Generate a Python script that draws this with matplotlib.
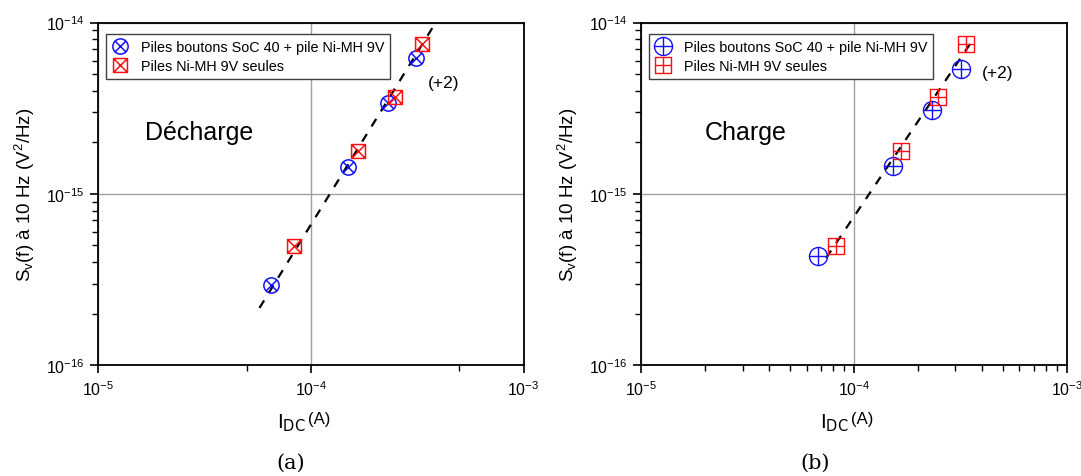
import matplotlib
matplotlib.use("Agg")
import matplotlib.pyplot as plt
import numpy as np
from matplotlib.path import Path
from matplotlib.ticker import FixedLocator, NullFormatter, LogFormatterSciNotation

plt.rcParams['font.family'] = ['Liberation Sans', 'DejaVu Sans']
plt.rcParams['mathtext.fontset'] = 'custom'
plt.rcParams['mathtext.rm'] = 'Liberation Sans'
plt.rcParams['mathtext.it'] = 'Liberation Sans:italic'
plt.rcParams['mathtext.default'] = 'regular'
plt.rcParams['axes.unicode_minus'] = False

# ---- data (a) Décharge ----
a_blue_x = [6.5e-5, 1.49e-4, 2.31e-4, 3.13e-4]
a_blue_y = [2.96e-16, 1.44e-15, 3.37e-15, 6.2e-15]
a_red_x = [8.3e-5, 1.67e-4, 2.49e-4, 3.34e-4]
a_red_y = [4.94e-16, 1.79e-15, 3.68e-15, 7.52e-15]
a_fit_x = [5.74e-5, 3.79e-4]
a_fit_y = [2.16e-16, 9.6e-15]

# ---- data (b) Charge ----
b_blue_x = [6.81e-5, 1.52e-4, 2.34e-4, 3.18e-4]
b_blue_y = [4.32e-16, 1.46e-15, 3.08e-15, 5.38e-15]
b_red_x = [8.25e-5, 1.67e-4, 2.49e-4, 3.36e-4]
b_red_y = [4.94e-16, 1.79e-15, 3.68e-15, 7.52e-15]
b_fit_x = [7.41e-5, 3.59e-4]
b_fit_y = [4.23e-16, 7.79e-15]

x_major = [1e-5, 1e-4, 1e-3]
y_major = [1e-16, 1e-15, 1e-14]

label_blue = "Piles boutons SoC 40 + pile Ni-MH 9V"
label_red = "Piles Ni-MH 9V seules"
ylabel = r"S$_v$(f) à 10 Hz (V$^2$/Hz)"

# ---- custom markers ----
def compound(shape, cross):
    if shape == 'circle':
        base = Path.unit_circle()
        d = np.cos(np.pi / 4)
    else:
        base = Path([(-1, -1), (1, -1), (1, 1), (-1, 1), (-1, -1)],
                    [Path.MOVETO, Path.LINETO, Path.LINETO, Path.LINETO, Path.CLOSEPOLY])
        d = 1.0
    if cross == 'x':
        lines = Path([(-d, -d), (d, d), (-d, d), (d, -d)],
                     [Path.MOVETO, Path.LINETO, Path.MOVETO, Path.LINETO])
    else:
        lines = Path([(-1, 0), (1, 0), (0, -1), (0, 1)],
                     [Path.MOVETO, Path.LINETO, Path.MOVETO, Path.LINETO])
    return Path.make_compound_path(base, lines)

m_circ_x = compound('circle', 'x')
m_sq_x = compound('square', 'x')
m_circ_p = compound('circle', '+')
m_sq_p = compound('square', '+')

fig = plt.figure(figsize=(10.81, 4.77), dpi=100)
W, H = 1081, 477
ax_a = fig.add_axes([98 / W, 1 - 366.3 / H, (523.5 - 98) / W, (366.3 - 23.5) / H])
ax_b = fig.add_axes([641 / W, 1 - 366.3 / H, (1066.7 - 641) / W, (366.3 - 23.5) / H])

def minor_list(decades, subs):
    return [s * d for d in decades[:-1] for s in subs]

def setup(ax, full_minor_x):
    ax.set_xscale('log')
    ax.set_yscale('log')
    ax.set_xlim(1e-5, 1e-3)
    ax.set_ylim(1e-16, 1e-14)
    ax.xaxis.set_major_locator(FixedLocator(x_major))
    ax.yaxis.set_major_locator(FixedLocator(y_major))
    ax.xaxis.set_major_formatter(LogFormatterSciNotation())
    ax.yaxis.set_major_formatter(LogFormatterSciNotation())
    if full_minor_x:
        ax.xaxis.set_minor_locator(FixedLocator(minor_list(x_major, range(2, 10))))
    else:
        ax.xaxis.set_minor_locator(FixedLocator(minor_list(x_major, [5])))
    ax.yaxis.set_minor_locator(FixedLocator(minor_list(y_major, range(2, 10))))
    ax.xaxis.set_minor_formatter(NullFormatter())
    ax.yaxis.set_minor_formatter(NullFormatter())
    ax.grid(True, which='major', color='#a0a0a0', linewidth=1.0)
    ax.set_axisbelow(True)
    for s in ax.spines.values():
        s.set_linewidth(1.3)
    ax.tick_params(which='major', direction='out', length=6, width=1.2, labelsize=11.5,
                   top=False, right=False, pad=4)
    ax.tick_params(which='minor', direction='out', length=4, width=1.0, top=False, right=False)
    ax.set_ylabel(ylabel, fontsize=13.5, labelpad=6)

setup(ax_a, False)
setup(ax_b, True)

ms = 11
# (a)
ax_a.plot(a_fit_x, a_fit_y, '--', color='black', linewidth=1.6, dashes=(4, 4), zorder=2)
ax_a.plot(a_blue_x, a_blue_y, linestyle='none', marker=m_circ_x, markersize=ms,
          markerfacecolor='none', markeredgecolor='#1010ff', markeredgewidth=1.1,
          label=label_blue, zorder=3)
ax_a.plot(a_red_x, a_red_y, linestyle='none', marker=m_sq_x, markersize=ms - 1,
          markerfacecolor='none', markeredgecolor='#ff1010', markeredgewidth=1.1,
          label=label_red, zorder=3)
# (b)
ax_b.plot(b_fit_x, b_fit_y, '--', color='black', linewidth=1.6, dashes=(4, 4), zorder=2)
ax_b.plot(b_blue_x, b_blue_y, linestyle='none', marker=m_circ_p, markersize=ms + 2,
          markerfacecolor='none', markeredgecolor='#1010ff', markeredgewidth=1.0,
          label=label_blue, zorder=3)
ax_b.plot(b_red_x, b_red_y, linestyle='none', marker=m_sq_p, markersize=ms + 0.5,
          markerfacecolor='none', markeredgecolor='#ff1010', markeredgewidth=1.0,
          label=label_red, zorder=3)

for ax in (ax_a, ax_b):
    leg = ax.legend(loc='upper left', bbox_to_anchor=(0.012, 0.975), fontsize=10.4,
                    frameon=True, fancybox=False, edgecolor='#404040', framealpha=1,
                    handlelength=1.2, handletextpad=0.8, borderpad=0.4,
                    labelspacing=0.35, borderaxespad=0.2)
    leg.get_frame().set_linewidth(1.0)

ax_a.text(0.11, 0.68, "Décharge", transform=ax_a.transAxes, fontsize=18, va='center', ha='left')
ax_b.text(0.149, 0.68, "Charge", transform=ax_b.transAxes, fontsize=18, va='center', ha='left')
ax_a.text(0.775, 0.825, "(+2)", transform=ax_a.transAxes, fontsize=12.5, va='center', ha='left')
ax_b.text(0.8, 0.855, "(+2)", transform=ax_b.transAxes, fontsize=12.5, va='center', ha='left')

# x labels: "I_DC (A)"
for cx in (310 / W, 853 / W):
    fig.text(cx - 0.004, 1 - 423 / H, r"I$_{\mathsf{DC}}$", fontsize=15, ha='right', va='center')
    fig.text(cx - 0.002, 1 - 420 / H, "(A)", fontsize=12, ha='left', va='center')

fig.text(291 / W, 1 - 463 / H, "(a)", fontsize=15, ha='center', va='center',
         family=['DejaVu Serif'])
fig.text(815 / W, 1 - 463 / H, "(b)", fontsize=15, ha='center', va='center',
         family=['DejaVu Serif'])

fig.savefig("out.png", dpi=100)
